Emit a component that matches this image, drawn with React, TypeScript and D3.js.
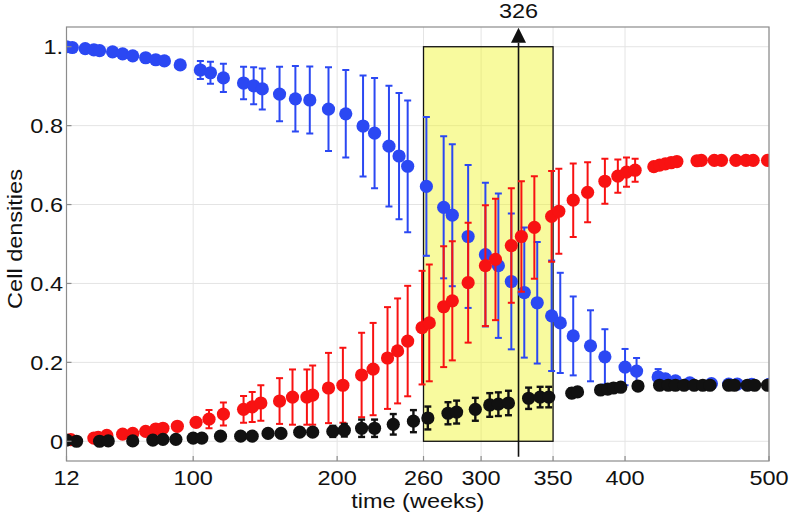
import React from "react";
import * as d3 from "d3";

// ---- data ----
const blueT = [12, 16, 25, 31, 35, 44, 51, 58, 67, 74,
  80, 91, 105, 112, 121, 135, 142, 148, 160, 171,
  181, 194, 206, 218, 226, 236, 243, 249, 262, 274,
  280, 291, 303, 312, 321, 330, 339, 349, 355, 364,
  376, 386, 400, 408, 423, 428, 435, 445, 460, 472,
  478, 488, 500];
const blueV = [1.0, 0.998, 0.995, 0.992, 0.99, 0.987, 0.982, 0.977, 0.972, 0.967,
  0.964, 0.954, 0.941, 0.934, 0.921, 0.908, 0.901, 0.893, 0.88, 0.868,
  0.865, 0.842, 0.83, 0.799, 0.781, 0.748, 0.723, 0.697, 0.646, 0.593,
  0.573, 0.519, 0.473, 0.445, 0.405, 0.377, 0.351, 0.318, 0.3, 0.267,
  0.242, 0.214, 0.188, 0.178, 0.163, 0.158, 0.153, 0.148, 0.146, 0.145,
  0.145, 0.144, 0.144];
const blueE = [0, 0, 0, 0, 0, 0, 0, 0, 0, 0,
  0, 0, 0.023, 0.028, 0.036, 0.041, 0.047, 0.052, 0.069, 0.083,
  0.085, 0.106, 0.111, 0.128, 0.14, 0.153, 0.16, 0.167, 0.176, 0.18,
  0.18, 0.181, 0.182, 0.183, 0.172, 0.165, 0.154, 0.14, 0.127, 0.1,
  0.09, 0.07, 0.046, 0.033, 0.02, 0.012, 0, 0, 0, 0,
  0, 0, 0];

const redT = [15, 31, 34, 40, 51, 58, 67, 74, 79, 89,
  102, 111, 121, 135, 141, 147, 160, 169, 179, 183,
  194, 204, 217, 225, 235, 242, 249, 259, 264, 274,
  280, 291, 303, 310, 321, 328, 337, 349, 354, 364,
  374, 386, 395, 401, 407, 420, 424, 428, 432, 436,
  450, 453, 462, 467, 477, 484, 489, 499];
const redV = [0.004, 0.008, 0.01, 0.015, 0.018, 0.02, 0.025, 0.031, 0.033, 0.038,
  0.048, 0.056, 0.069, 0.081, 0.087, 0.097, 0.102, 0.112, 0.112, 0.117,
  0.135, 0.142, 0.168, 0.183, 0.211, 0.229, 0.254, 0.288, 0.3, 0.341,
  0.356, 0.402, 0.445, 0.461, 0.496, 0.519, 0.542, 0.57, 0.583, 0.611,
  0.631, 0.659, 0.672, 0.682, 0.687, 0.696, 0.700, 0.703, 0.706, 0.709,
  0.711, 0.712, 0.712, 0.712, 0.712, 0.712, 0.712, 0.712];
const redE = [0, 0, 0, 0, 0, 0, 0, 0, 0, 0,
  0.01, 0.023, 0.029, 0.034, 0.038, 0.045, 0.058, 0.07, 0.07, 0.075,
  0.089, 0.095, 0.107, 0.117, 0.129, 0.133, 0.14, 0.144, 0.148, 0.153,
  0.151, 0.152, 0.153, 0.154, 0.145, 0.14, 0.13, 0.115, 0.108, 0.093,
  0.076, 0.057, 0.042, 0.037, 0.029, 0, 0, 0, 0, 0,
  0, 0, 0, 0, 0, 0, 0, 0];

const blackT = [12, 19, 35, 41, 58, 72, 79, 88, 100, 106,
  119, 133, 141, 152, 161, 174, 183, 197, 205, 217,
  226, 239, 253, 263, 277, 283, 296, 306, 312, 319,
  333, 341, 347, 363, 367, 383, 388, 392, 397, 409,
  424, 430, 435, 441, 448, 454, 459, 472, 476, 485,
  490, 499];
const blackV = [0.003, 0.0, 0.0, 0.001, 0.001, 0.003, 0.005, 0.005, 0.008, 0.008,
  0.013, 0.013, 0.013, 0.02, 0.02, 0.023, 0.023, 0.025, 0.028, 0.033,
  0.033, 0.043, 0.051, 0.059, 0.071, 0.074, 0.081, 0.092, 0.094, 0.097,
  0.109, 0.112, 0.112, 0.122, 0.125, 0.13, 0.132, 0.135, 0.137, 0.14,
  0.142, 0.142, 0.142, 0.142, 0.142, 0.142, 0.142, 0.142, 0.142, 0.142,
  0.142, 0.142];
const blackE = [0, 0, 0, 0, 0, 0, 0, 0, 0, 0,
  0, 0, 0, 0, 0, 0, 0, 0.014, 0.016, 0.022,
  0.022, 0.026, 0.028, 0.029, 0.028, 0.029, 0.029, 0.03, 0.03, 0.031,
  0.027, 0.026, 0.026, 0.012, 0.01, 0, 0, 0, 0, 0,
  0, 0, 0, 0, 0, 0, 0, 0, 0, 0,
  0, 0];

const xTicks = [12, 100, 200, 260, 300, 350, 400, 500];
const yTicks = [0, 0.2, 0.4, 0.6, 0.8, 1];
const yTickLabels = ["0", "0.2", "0.4", "0.6", "0.8", "1."];
const highlightRange = [260, 350];
const highlightY = [0, 1];
const markerT = 326;

const W = 789, H = 520;
const L = 66.5, R = 769, T = 27, B = 461;

const x = d3.scaleLinear().domain([12, 500]).range([L, R]);
const y = d3.scaleLinear().domain([-0.05, 1.05]).range([B, T]);

const FONT = "'Liberation Sans', Arial, Helvetica, sans-serif";
const SX = 1.12;

function Series({ ts, vs, es, color, sw }: { ts: number[]; vs: number[]; es: number[]; color: string; sw: number }) {
  const cap = 3.5;
  return (
    <g>
      {ts.map((t, i) => {
        const e = es[i];
        if (!e) return null;
        const cx = x(t);
        const y1 = y(vs[i] + e), y2 = y(vs[i] - e);
        return (
          <g key={"e" + i} stroke={color} strokeWidth={sw}>
            <line x1={cx} x2={cx} y1={y1} y2={y2} />
            <line x1={cx - cap} x2={cx + cap} y1={y1} y2={y1} />
            <line x1={cx - cap} x2={cx + cap} y1={y2} y2={y2} />
          </g>
        );
      })}
      {ts.map((t, i) => (
        <circle key={"c" + i} cx={x(t)} cy={y(vs[i])} r={6.6} fill={color} />
      ))}
    </g>
  );
}

function SText({ tx, ty, anchor, size, children, rotate }: any) {
  const tr = `translate(${tx},${ty})${rotate ? ` rotate(${rotate})` : ""} scale(${SX},1)`;
  return (
    <g transform={tr}>
      <text x={0} y={0} textAnchor={anchor} fontSize={size} fontFamily={FONT} fill="#111">
        {children}
      </text>
    </g>
  );
}

export default function App() {
  const mx = x(markerT);
  return (
    <svg width={W} height={H} style={{ position: "absolute", left: 0, top: 0, background: "#fff" }}>
      <defs>
        <clipPath id="plotclip">
          <rect x={L} y={T} width={R - L} height={B - T} />
        </clipPath>
      </defs>
      <rect x={0} y={0} width={W} height={H} fill="#fff" />
      {/* grid */}
      <g stroke="#e4e4e4" strokeWidth={1}>
        {xTicks.map((t) => (
          <line key={"gx" + t} x1={x(t)} x2={x(t)} y1={T} y2={B} />
        ))}
        {yTicks.map((v) => (
          <line key={"gy" + v} x1={L} x2={R} y1={y(v)} y2={y(v)} />
        ))}
      </g>
      {/* highlight */}
      <rect
        x={x(highlightRange[0])}
        y={y(highlightY[1])}
        width={x(highlightRange[1]) - x(highlightRange[0])}
        height={y(highlightY[0]) - y(highlightY[1])}
        fill="rgb(240,245,40)"
        fillOpacity={0.45}
        stroke="#111"
        strokeWidth={1.3}
      />
      {/* marker line */}
      <line x1={mx} x2={mx} y1={y(1.01)} y2={y(-0.039)} stroke="#111" strokeWidth={1.6} />
      <path d={`M${mx},${y(1.048)} L${mx + 7.5},${y(1.01)} L${mx - 7.5},${y(1.01)} Z`} fill="#111" />
      <SText tx={mx} ty={18} anchor="middle" size={21}>{String(markerT)}</SText>
      {/* data */}
      <g clipPath="url(#plotclip)">
        <Series ts={blueT} vs={blueV} es={blueE} color="#2b48f3" sw={2} />
        <Series ts={redT} vs={redV} es={redE} color="#f81212" sw={2} />
        <Series ts={blackT} vs={blackV} es={blackE} color="#111111" sw={2.4} />
      </g>
      {/* frame */}
      <rect x={L} y={T} width={R - L} height={B - T} fill="none" stroke="#8c8c8c" strokeWidth={1.2} />
      <g stroke="#8c8c8c" strokeWidth={1.2}>
        {xTicks.map((t) => (
          <line key={"tx" + t} x1={x(t)} x2={x(t)} y1={B} y2={B - 5} />
        ))}
        {yTicks.map((v) => (
          <line key={"ty" + v} x1={L} x2={L + 5} y1={y(v)} y2={y(v)} />
        ))}
      </g>
      {/* tick labels */}
      {xTicks.map((t) => (
        <SText key={"lx" + t} tx={x(t)} ty={485} anchor="middle" size={21}>{String(t)}</SText>
      ))}
      {yTicks.map((v, i) => (
        <SText key={"ly" + v} tx={63} ty={y(v) + 7.5} anchor="end" size={21}>{yTickLabels[i]}</SText>
      ))}
      <SText tx={(L + R) / 2} ty={508} anchor="middle" size={21}>time (weeks)</SText>
      <SText tx={22} ty={239} anchor="middle" size={21} rotate={-90}>Cell densities</SText>
    </svg>
  );
}
